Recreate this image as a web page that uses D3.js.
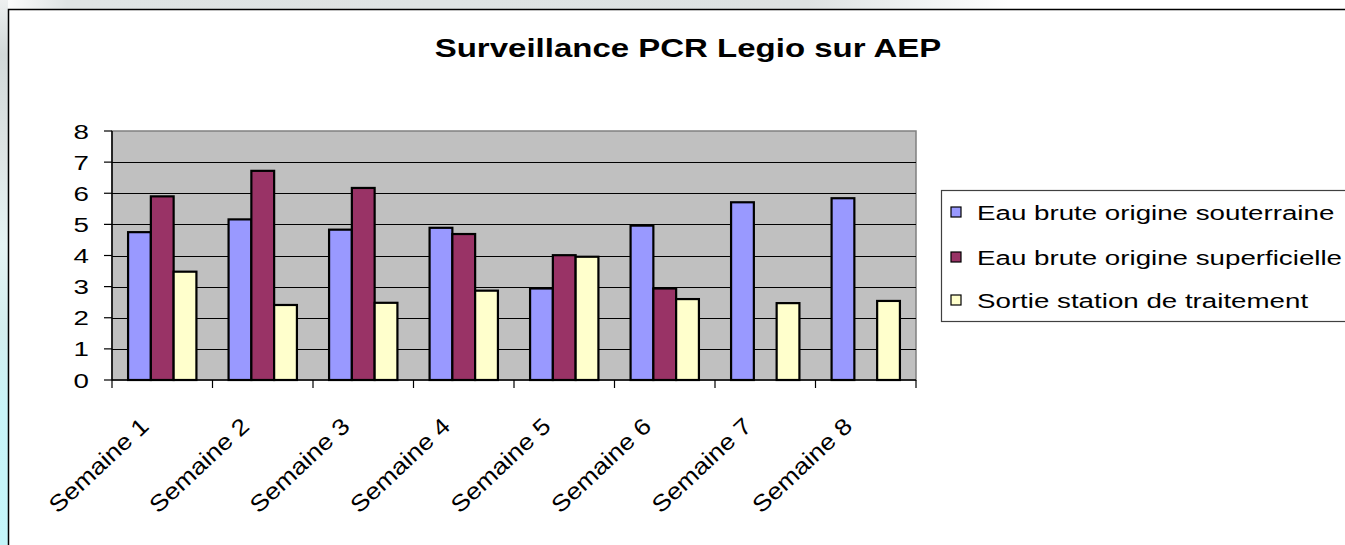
<!DOCTYPE html>
<html>
<head>
<meta charset="utf-8">
<script src="https://cdn.jsdelivr.net/npm/d3@7"></script>
<style>
  body { margin: 0; background: #fff; }
  svg { display: block; }
  text { font-family: "Liberation Sans", Arial, sans-serif; fill: #000; }
</style>
</head>
<body>
<svg id="svg" width="1345" height="545"></svg>
<script>
// data
var categories = ["Semaine 1", "Semaine 2", "Semaine 3", "Semaine 4", "Semaine 5", "Semaine 6", "Semaine 7", "Semaine 8"];
var seriesNames = ["Eau brute origine souterraine", "Eau brute origine superficielle", "Sortie station de traitement"];
var souterraine = [4.75, 5.16, 4.83, 4.89, 2.94, 4.96, 5.71, 5.84];
var superficielle = [5.9, 6.72, 6.17, 4.69, 4.01, 2.94, null, null];
var sortie = [3.48, 2.41, 2.48, 2.87, 3.96, 2.6, 2.47, 2.54];
var yTicks = [0, 1, 2, 3, 4, 5, 6, 7, 8];
var colors = ["#9999ff", "#993366", "#ffffcc"];

var svg = d3.select("#svg");
var SX = 1.32; // the picture is stretched sideways, text too

var plot = { left: 112, top: 131, right: 916, bottom: 380 };

// backdrop swoosh outside the chart frame
var defs = svg.append("defs");
var gTop = defs.append("linearGradient").attr("id", "gTop");
[[0, "#ffffff"], [0.05, "#dfe4e4"], [0.6, "#dde2e2"], [0.75, "#ffffff"], [1, "#ffffff"]].forEach(function (s) {
  gTop.append("stop").attr("offset", s[0]).attr("stop-color", s[1]);
});
var gLeft = defs.append("linearGradient").attr("id", "gLeft").attr("x1", 0).attr("y1", 0).attr("x2", 0).attr("y2", 1);
[[0, "#eef0f0"], [0.1, "#d2d9d9"], [0.3, "#dfe6e6"], [0.45, "#e4f4f4"], [0.6, "#d4eeee"], [0.75, "#c8f4f8"], [1, "#c4f6fa"]].forEach(function (s) {
  gLeft.append("stop").attr("offset", s[0]).attr("stop-color", s[1]);
});
svg.append("rect").attr("x", 0).attr("y", 0).attr("width", 1345).attr("height", 9).attr("fill", "url(#gTop)");
svg.append("rect").attr("x", 0).attr("y", 0).attr("width", 8).attr("height", 545).attr("fill", "url(#gLeft)");

// chart frame (runs off the right and bottom)
svg.append("rect")
  .attr("x", 8.5).attr("y", 9.5)
  .attr("width", 1400).attr("height", 600)
  .attr("fill", "#fff").attr("stroke", "#000").attr("stroke-width", 1.5);

// title
svg.append("text")
  .attr("transform", "translate(688,57) scale(" + SX + ",1)")
  .attr("text-anchor", "middle")
  .style("font-size", "25px")
  .style("font-weight", "bold")
  .text("Surveillance PCR Legio sur AEP");

var yScale = d3.scaleLinear().domain([0, 8]).range([plot.bottom, plot.top]);
var xScale = d3.scaleBand().domain(categories).range([plot.left, plot.right]).paddingInner(0.32).paddingOuter(0.16);
var step = xScale.step();
var xInner = d3.scaleBand().domain(d3.range(3)).range([0, xScale.bandwidth()]);

// plot area
svg.append("rect")
  .attr("x", plot.left).attr("y", plot.top)
  .attr("width", plot.right - plot.left).attr("height", plot.bottom - plot.top)
  .attr("fill", "#c0c0c0").attr("stroke", "#808080").attr("stroke-width", 1.5);

svg.append("g").selectAll("line")
  .data(yTicks.filter(function (d) { return d > 0 && d < 8; }))
  .enter().append("line")
  .attr("x1", plot.left).attr("x2", plot.right)
  .attr("y1", function (d) { return Math.round(yScale(d)) + 0.5; })
  .attr("y2", function (d) { return Math.round(yScale(d)) + 0.5; })
  .attr("stroke", "#000").attr("stroke-width", 1.2);

// bars
var series = [souterraine, superficielle, sortie];
var rows = [];
series.forEach(function (vals, s) {
  vals.forEach(function (v, i) {
    if (v != null) rows.push({ s: s, cat: categories[i], v: v });
  });
});

svg.append("g").selectAll("rect")
  .data(rows)
  .enter().append("rect")
  .attr("x", function (d) { return xScale(d.cat) + xInner(d.s); })
  .attr("y", function (d) { return yScale(d.v); })
  .attr("width", xInner.bandwidth())
  .attr("height", function (d) { return plot.bottom - yScale(d.v); })
  .attr("fill", function (d) { return colors[d.s]; })
  .attr("stroke", "#000")
  .attr("stroke-width", 2.2);

// y axis
var yAxis = svg.append("g");
yAxis.append("line")
  .attr("x1", plot.left).attr("x2", plot.left)
  .attr("y1", plot.top).attr("y2", plot.bottom)
  .attr("stroke", "#000").attr("stroke-width", 1.5);
yAxis.selectAll(".tick").data(yTicks).enter().append("line")
  .attr("x1", plot.left - 8).attr("x2", plot.left)
  .attr("y1", function (d) { return yScale(d); })
  .attr("y2", function (d) { return yScale(d); })
  .attr("stroke", "#000").attr("stroke-width", 1.2);
yAxis.selectAll("text").data(yTicks).enter().append("text")
  .attr("transform", function (d) { return "translate(89," + (yScale(d) + 7.5) + ") scale(" + SX + ",1)"; })
  .attr("text-anchor", "end")
  .style("font-size", "21px")
  .text(function (d) { return d; });

// x axis
var xAxis = svg.append("g");
xAxis.append("line")
  .attr("x1", plot.left).attr("x2", plot.right)
  .attr("y1", plot.bottom).attr("y2", plot.bottom)
  .attr("stroke", "#000").attr("stroke-width", 1.5);
xAxis.selectAll(".tick").data(d3.range(categories.length + 1)).enter().append("line")
  .attr("x1", function (i) { return plot.left + i * step; })
  .attr("x2", function (i) { return plot.left + i * step; })
  .attr("y1", plot.bottom).attr("y2", plot.bottom + 8)
  .attr("stroke", "#000").attr("stroke-width", 1.2);
xAxis.selectAll("text").data(categories).enter().append("text")
  .attr("transform", function (d) {
    var cx = xScale(d) + xScale.bandwidth() / 2;
    return "translate(" + (cx - 12) + ",428) rotate(-43) scale(1.15,1)";
  })
  .attr("text-anchor", "end")
  .style("font-size", "23px")
  .text(function (d) { return d; });

// legend
var legend = svg.append("g");
legend.append("rect")
  .attr("x", 941.5).attr("y", 190.5)
  .attr("width", 500).attr("height", 131)
  .attr("fill", "#fff").attr("stroke", "#404040").attr("stroke-width", 1.2);
var rowY = [212, 257, 300];
seriesNames.forEach(function (name, i) {
  legend.append("rect")
    .attr("x", 951).attr("y", rowY[i] - 5)
    .attr("width", 10).attr("height", 10)
    .attr("fill", colors[i]).attr("stroke", "#000").attr("stroke-width", 1.2);
  legend.append("text")
    .attr("transform", "translate(977," + (rowY[i] + 7.5) + ") scale(" + SX + ",1)")
    .style("font-size", "21px")
    .text(name);
});
</script>
</body>
</html>
